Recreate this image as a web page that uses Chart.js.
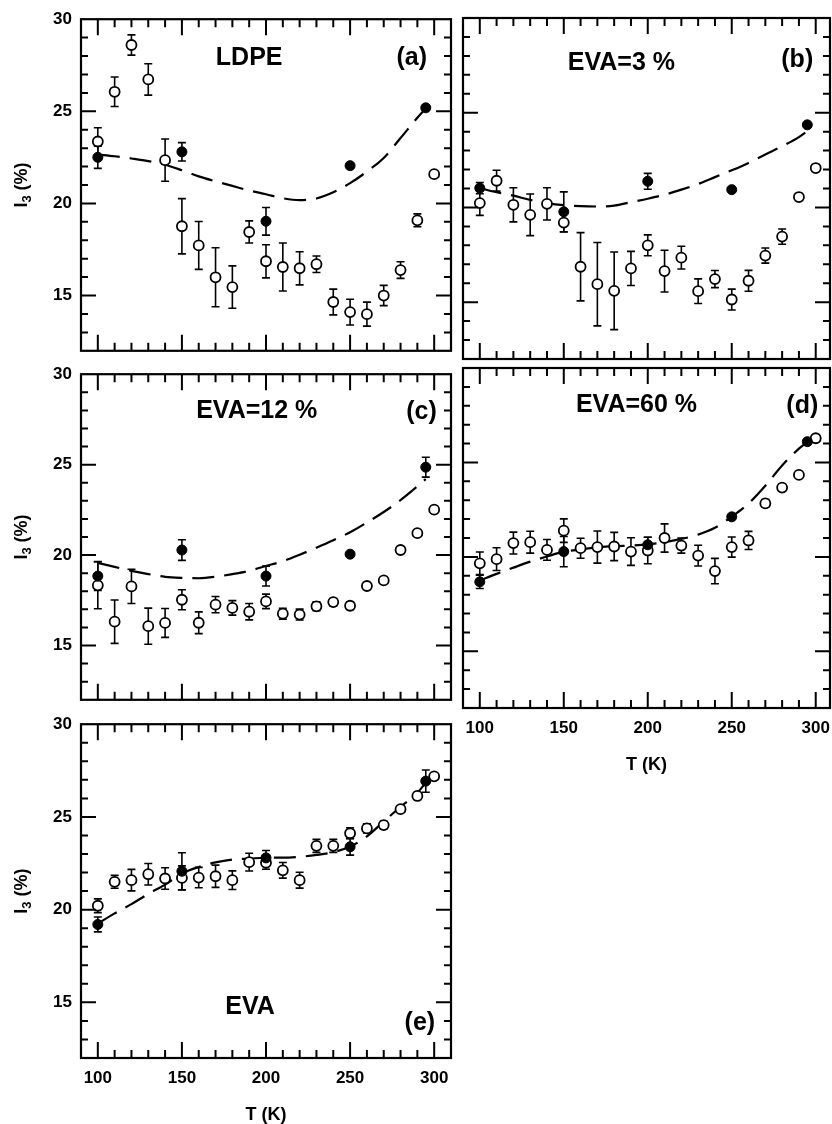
<!DOCTYPE html>
<html>
<head>
<meta charset="utf-8">
<script src="https://cdn.jsdelivr.net/npm/chart.js@4.4.1/dist/chart.umd.min.js"></script>
<style>
  body { margin: 0; background: #fff; width: 832px; height: 1124px; position: relative; overflow: hidden; }
  canvas { position: absolute; }
</style>
</head>
<body>
<canvas id="panelA" width="460" height="370" style="left:0;top:0"></canvas>
<canvas id="panelB" width="400" height="370" style="left:455px;top:0"></canvas>
<canvas id="panelC" width="460" height="364" style="left:0;top:355px"></canvas>
<canvas id="panelD" width="400" height="419" style="left:455px;top:355px"></canvas>
<canvas id="panelE" width="460" height="419" style="left:0;top:705px"></canvas>
<script>
// temperatures (K)
const temps = [100, 110, 120, 130, 140, 150, 160, 170, 180, 190, 200, 210, 220, 230, 240, 250, 260, 270, 280, 290, 300];
const filledTemps = [100, 150, 200, 250, 295];
const fitTemps = [100, 110, 120, 130, 140, 150, 160, 170, 180, 190, 200, 210, 220, 230, 240, 250, 260, 270, 280, 290, 295];
const tempTicks = [100, 150, 200, 250, 300];
const i3Ticks = [15, 20, 25, 30];

// (a) LDPE
const ldpeOpen = [23.36, 26.06, 28.6, 26.73, 22.35, 18.76, 17.72, 15.99, 15.46, 18.45, 16.86, 16.55, 16.48, 16.7, 14.65, 14.1, 13.99, 15.0, 16.38, 19.08, 21.59];
const ldpeOpenErr = [0.75, 0.8, 0.55, 0.85, 1.15, 1.5, 1.3, 1.6, 1.15, 0.6, 0.9, 1.3, 0.9, 0.45, 0.7, 0.7, 0.65, 0.55, 0.45, 0.35, 0];
const ldpeFilled = [22.5, 22.8, 19.03, 22.05, 25.19];
const ldpeFilledErr = [0.6, 0.5, 0.75, 0, 0];
const ldpeFit = [22.65, 22.56, 22.44, 22.3, 22.1, 21.8, 21.47, 21.2, 20.95, 20.7, 20.5, 20.28, 20.18, 20.27, 20.6, 21.1, 21.73, 22.47, 23.55, 24.65, 25.15];

// (b) EVA=3 %
const eva3Open = [20.23, 21.41, 20.14, 19.61, 20.19, 19.2, 16.87, 15.95, 15.6, 16.78, 18.0, 16.64, 17.35, 15.58, 16.22, 15.14, 16.13, 17.46, 18.46, 20.55, 22.08];
const eva3OpenErr = [0.65, 0.55, 0.9, 1.1, 0.85, 0.5, 1.8, 2.2, 2.05, 0.9, 0.55, 1.1, 0.6, 0.65, 0.45, 0.55, 0.55, 0.4, 0.4, 0, 0];
const eva3Filled = [21.02, 19.77, 21.38, 20.94, 24.36];
const eva3FilledErr = [0.3, 1.05, 0.42, 0, 0];
const eva3Fit = [21.02, 20.8, 20.62, 20.4, 20.23, 20.12, 20.07, 20.05, 20.1, 20.28, 20.46, 20.67, 20.94, 21.24, 21.6, 21.96, 22.35, 22.8, 23.23, 23.71, 24.03];

// (c) EVA=12 %
const eva12Open = [18.33, 16.32, 18.27, 16.07, 16.25, 17.53, 16.26, 17.26, 17.08, 16.87, 17.44, 16.76, 16.71, 17.17, 17.4, 17.2, 18.29, 18.6, 20.28, 21.21, 22.51];
const eva12OpenErr = [1.3, 1.2, 0.95, 1.0, 0.8, 0.55, 0.6, 0.45, 0.4, 0.45, 0.4, 0.3, 0.3, 0.25, 0.2, 0.2, 0, 0, 0, 0, 0];
const eva12Filled = [18.84, 20.28, 18.84, 20.05, 24.86];
const eva12FilledErr = [0.8, 0.57, 0.55, 0, 0.55];
const eva12Fit = [19.57, 19.35, 19.13, 18.95, 18.8, 18.74, 18.72, 18.8, 18.95, 19.13, 19.4, 19.66, 20.02, 20.41, 20.82, 21.26, 21.8, 22.38, 23.04, 23.8, 24.2];

// (d) EVA=60 %
const eva60Open = [19.66, 19.88, 20.73, 20.78, 20.37, 21.39, 20.46, 20.52, 20.55, 20.28, 20.34, 21.0, 20.6, 20.07, 19.25, 20.52, 20.87, 22.83, 23.67, 24.34, 26.28];
const eva60OpenErr = [0.6, 0.6, 0.58, 0.58, 0.55, 0.62, 0.53, 0.85, 0.75, 0.73, 0.7, 0.75, 0.4, 0.55, 0.67, 0.53, 0.48, 0.2, 0.15, 0.1, 0];
const eva60Filled = [18.68, 20.28, 20.64, 22.12, 26.1];
const eva60FilledErr = [0.35, 0.8, 0.4, 0, 0];
const eva60Fit = [18.75, 19.1, 19.43, 19.75, 20.02, 20.27, 20.4, 20.5, 20.57, 20.6, 20.66, 20.78, 20.95, 21.18, 21.54, 22.13, 22.83, 23.77, 24.84, 25.73, 26.09];

// (e) EVA
const evaOpen = [20.21, 21.5, 21.59, 21.91, 21.68, 21.71, 21.73, 21.8, 21.59, 22.56, 22.53, 22.12, 21.59, 23.44, 23.44, 24.12, 24.38, 24.56, 25.42, 26.13, 27.19];
const evaOpenErr = [0.37, 0.35, 0.58, 0.58, 0.58, 0.65, 0.55, 0.6, 0.5, 0.48, 0.35, 0.42, 0.43, 0.35, 0.35, 0.3, 0.25, 0.2, 0, 0, 0];
const evaFilled = [19.2, 22.07, 22.79, 23.39, 26.93];
const evaFilledErr = [0.4, 1.0, 0.4, 0.45, 0.6];
const evaFit = [19.25, 19.8, 20.3, 20.85, 21.35, 21.95, 22.3, 22.55, 22.7, 22.75, 22.8, 22.8, 22.85, 22.95, 23.1, 23.4, 23.95, 24.75, 25.55, 26.3, 26.85];

const FONT = '"Liberation Sans", Arial, Helvetica, sans-serif';
Chart.defaults.font.family = FONT;
Chart.defaults.font.weight = 'bold';
Chart.defaults.color = '#000';

const pts = (xs, ys) => xs.map((x, i) => ({ x: x, y: ys[i] }));

// box + inward ticks on all four sides
const frameTicks = {
  id: 'frameTicks',
  afterDraw(chart) {
    const { ctx, chartArea: a, scales: { x, y } } = chart;
    ctx.save();
    ctx.strokeStyle = '#000';
    ctx.lineWidth = 2;
    ctx.beginPath();
    for (let t = 100; t <= 300; t += 10) {
      const px = x.getPixelForValue(t);
      const len = t % 50 === 0 ? 16 : 8;
      ctx.moveTo(px, a.bottom); ctx.lineTo(px, a.bottom - len);
      ctx.moveTo(px, a.top); ctx.lineTo(px, a.top + len);
    }
    for (let v = 13; v < 30; v++) {
      const py = y.getPixelForValue(v);
      const len = v % 5 === 0 ? 15 : 7;
      ctx.moveTo(a.left, py); ctx.lineTo(a.left + len, py);
      ctx.moveTo(a.right, py); ctx.lineTo(a.right - len, py);
    }
    ctx.stroke();
    ctx.lineWidth = 2.2;
    ctx.strokeRect(a.left, a.top, a.right - a.left, a.bottom - a.top);
    ctx.restore();
  }
};

const errorBars = {
  id: 'errorBars',
  beforeDatasetsDraw(chart) {
    const { ctx, scales: { y } } = chart;
    ctx.save();
    ctx.strokeStyle = '#000';
    ctx.lineWidth = 1.6;
    chart.data.datasets.forEach((ds, i) => {
      if (!ds.errors) return;
      const meta = chart.getDatasetMeta(i);
      ds.data.forEach((pt, j) => {
        const e = ds.errors[j];
        if (!e) return;
        const px = meta.data[j].x;
        const top = y.getPixelForValue(pt.y + e);
        const bot = y.getPixelForValue(pt.y - e);
        ctx.beginPath();
        ctx.moveTo(px, top); ctx.lineTo(px, bot);
        ctx.moveTo(px - 4, top); ctx.lineTo(px + 4, top);
        ctx.moveTo(px - 4, bot); ctx.lineTo(px + 4, bot);
        ctx.stroke();
      });
    });
    ctx.restore();
  }
};

// panel captions and the I3 axis title (with a real subscript)
const panelText = {
  id: 'panelText',
  afterDraw(chart, args, opts) {
    const { ctx, chartArea: a, scales: { x, y } } = chart;
    ctx.save();
    ctx.fillStyle = '#000';
    ctx.font = 'bold 25px ' + FONT;
    ctx.textAlign = 'center';
    ctx.textBaseline = 'middle';
    (opts.items || []).forEach(it => {
      ctx.fillText(it.text, x.getPixelForValue(it.at[0]), y.getPixelForValue(it.at[1]));
    });
    if (opts.yTitle) {
      ctx.translate(22, (a.top + a.bottom) / 2);
      ctx.rotate(-Math.PI / 2);
      ctx.textAlign = 'left';
      const big = 'bold 18px ' + FONT, small = 'bold 13px ' + FONT;
      ctx.font = big; const w1 = ctx.measureText('I').width, w3 = ctx.measureText(' (%)').width;
      ctx.font = small; const w2 = ctx.measureText('3').width;
      let cx = -(w1 + w2 + w3) / 2;
      ctx.font = big; ctx.fillText('I', cx, 0); cx += w1;
      ctx.font = small; ctx.fillText('3', cx, 5); cx += w2;
      ctx.font = big; ctx.fillText(' (%)', cx, 0);
    }
    ctx.restore();
  }
};

function makePanel(id, p) {
  new Chart(document.getElementById(id), {
    type: 'scatter',
    data: {
      datasets: [
        {
          data: pts(fitTemps, p.fit),
          showLine: true,
          borderColor: '#000',
          borderWidth: 2.2,
          borderDash: [22, 10],
          cubicInterpolationMode: 'monotone',
          pointRadius: 0,
          order: 3
        },
        {
          data: pts(temps, p.open),
          errors: p.openErr,
          pointRadius: 5,
          pointBackgroundColor: '#fff',
          pointBorderColor: '#000',
          pointBorderWidth: 1.8,
          order: 2
        },
        {
          data: pts(filledTemps, p.filled),
          errors: p.filledErr,
          pointRadius: 5,
          pointBackgroundColor: '#000',
          pointBorderColor: '#000',
          pointBorderWidth: 1,
          order: 1
        }
      ]
    },
    options: {
      responsive: false,
      animation: false,
      layout: { autoPadding: false, padding: p.pad },
      plugins: {
        legend: { display: false },
        tooltip: { enabled: false },
        panelText: { items: p.labels, yTitle: p.showY }
      },
      scales: {
        x: {
          type: 'linear',
          min: 90,
          max: p.xMax,
          grid: { display: false, drawTicks: false },
          border: { display: false },
          afterBuildTicks: s => { s.ticks = tempTicks.map(v => ({ value: v })); },
          afterFit: s => { s.height = p.xAxisH; },
          ticks: { display: p.showX, padding: 10, font: { size: 17, weight: 'bold' }, color: '#000' },
          title: { display: p.showX, text: 'T (K)', color: '#000', padding: { top: 0, bottom: 0 },
                   font: { size: 18, weight: 'bold', lineHeight: 1 } }
        },
        y: {
          type: 'linear',
          min: 12,
          max: 30,
          grid: { display: false, drawTicks: false },
          border: { display: false },
          afterBuildTicks: s => { s.ticks = i3Ticks.map(v => ({ value: v })); },
          afterFit: s => { s.width = p.yAxisW; },
          ticks: { display: p.showY, padding: 9, font: { size: 17, weight: 'bold' }, color: '#000' },
          title: { display: false }
        }
      }
    },
    plugins: [errorBars, frameTicks, panelText]
  });
}

makePanel('panelA', {
  open: ldpeOpen, openErr: ldpeOpenErr, filled: ldpeFilled, filledErr: ldpeFilledErr, fit: ldpeFit,
  xMax: 310, showX: false, showY: true, yAxisW: 81, xAxisH: 0,
  pad: { top: 18, left: 0, right: 9, bottom: 11 },
  labels: [{ text: 'LDPE', at: [190, 27.9] }, { text: '(a)', at: [286.7, 27.9] }]
});
makePanel('panelB', {
  open: eva3Open, openErr: eva3OpenErr, filled: eva3Filled, filledErr: eva3FilledErr, fit: eva3Fit,
  xMax: 308.5, showX: false, showY: false, yAxisW: 8, xAxisH: 0,
  pad: { top: 18, left: 0, right: 25, bottom: 11 },
  labels: [{ text: 'EVA=3 %', at: [184.3, 27.6] }, { text: '(b)', at: [289, 27.8] }]
});
makePanel('panelC', {
  open: eva12Open, openErr: eva12OpenErr, filled: eva12Filled, filledErr: eva12FilledErr, fit: eva12Fit,
  xMax: 310, showX: false, showY: true, yAxisW: 81, xAxisH: 0,
  pad: { top: 13, left: 0, right: 9, bottom: 11 },
  labels: [{ text: 'EVA=12 %', at: [194.5, 27.95] }, { text: '(c)', at: [292.5, 27.9] }]
});
makePanel('panelD', {
  open: eva60Open, openErr: eva60OpenErr, filled: eva60Filled, filledErr: eva60FilledErr, fit: eva60Fit,
  xMax: 308.5, showX: true, showY: false, yAxisW: 8, xAxisH: 66,
  pad: { top: 13, left: 0, right: 25, bottom: 0 },
  labels: [{ text: 'EVA=60 %', at: [193.3, 28.05] }, { text: '(d)', at: [292, 28.0] }]
});
makePanel('panelE', {
  open: evaOpen, openErr: evaOpenErr, filled: evaFilled, filledErr: evaFilledErr, fit: evaFit,
  xMax: 310, showX: true, showY: true, yAxisW: 81, xAxisH: 66,
  pad: { top: 13, left: 0, right: 9, bottom: 0 },
  labels: [{ text: 'EVA', at: [190.5, 14.76] }, { text: '(e)', at: [291.5, 13.9] }]
});
</script>
</body>
</html>
